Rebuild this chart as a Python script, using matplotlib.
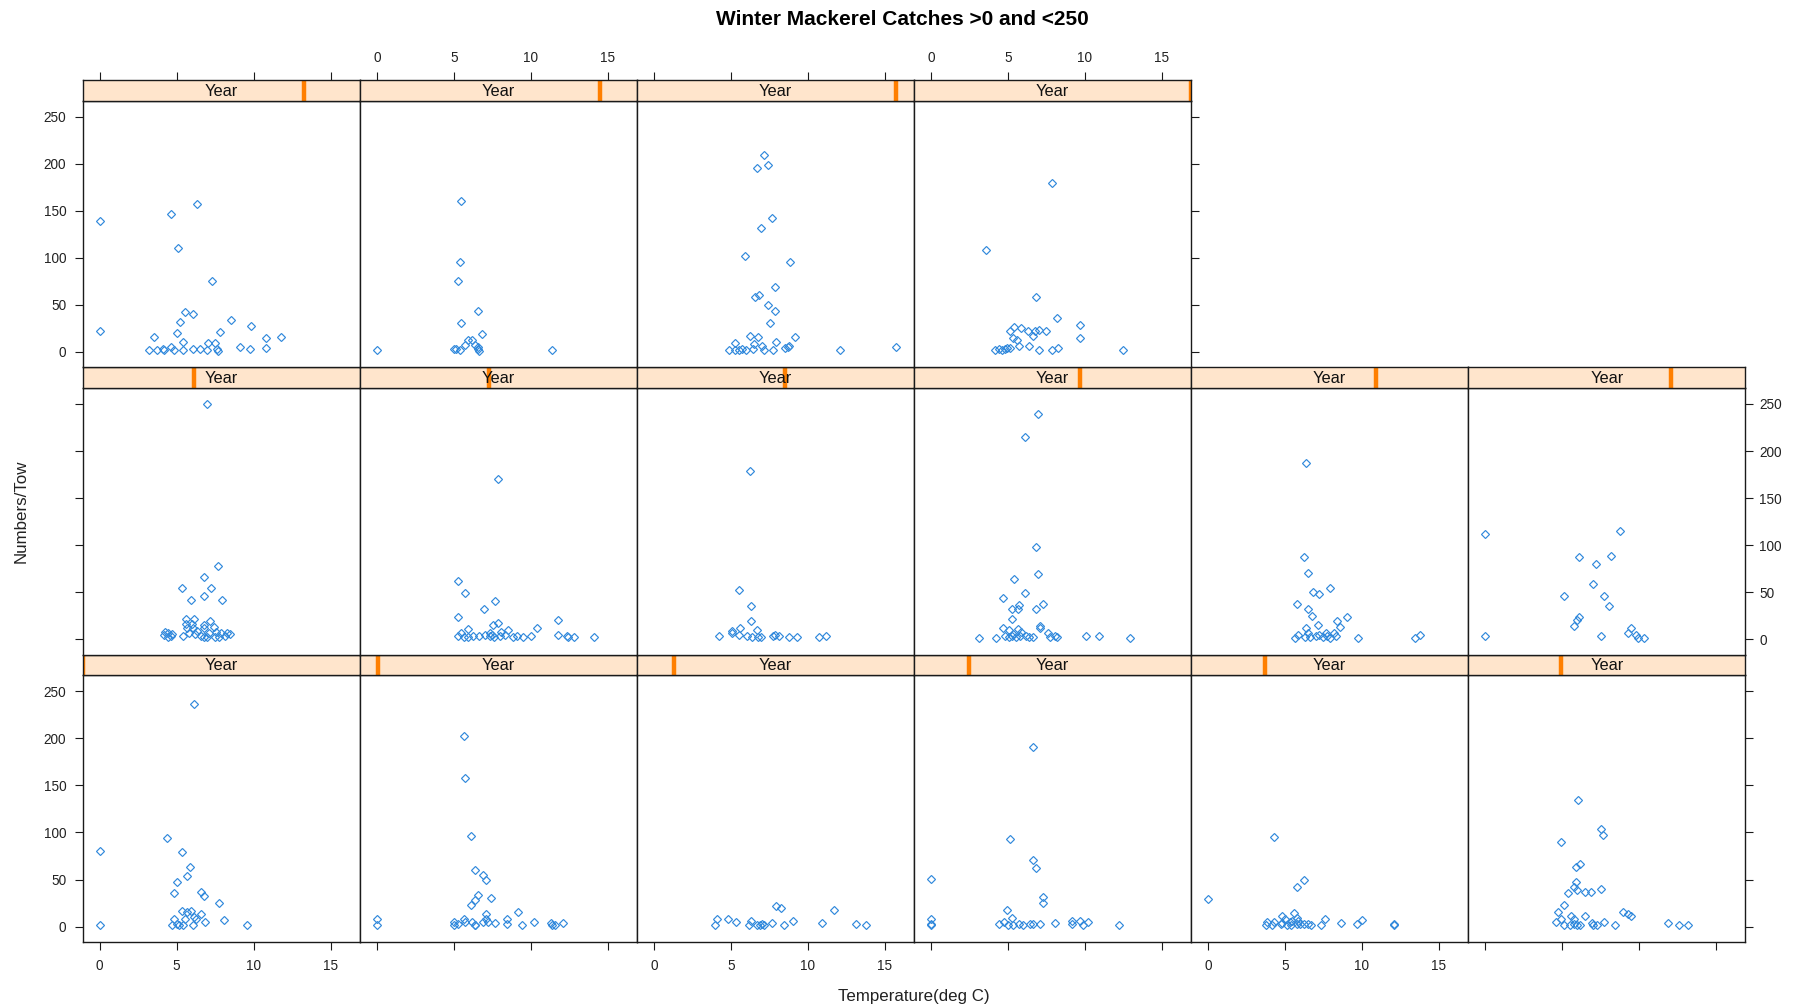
import matplotlib
matplotlib.use("Agg")
import matplotlib.pyplot as plt

plt.rcParams['font.family'] = ['Liberation Sans', 'DejaVu Sans']

# lattice panel order: bottom row left->right (1-6), middle row (7-12), top row (13-16)
temp_01 = [6.1, 0.0, 0.0, 4.4, 5.35, 5.85, 5.65, 5.05, 4.85, 6.6, 6.75, 7.75, 5.35, 5.65,
           5.95, 6.6, 4.85, 5.55, 6.1, 6.25, 8.05, 6.85, 4.7, 5.05, 5.15, 5.4, 6.05, 9.55]
num_01 = [237, 80, 1.5, 94, 79, 63, 54, 47, 36, 37, 32, 25, 17, 15.5,
          16.5, 13, 8.5, 8.5, 10.5, 8, 7, 5, 1.5, 2.5, 1.5, 1.5, 1.5, 1.5]

temp_02 = [5.65, 5.7, 6.15, 6.35, 6.9, 7.1, 6.55, 7.4, 6.35, 6.15, 9.15, 0.0, 0.0, 5.65, 7.1,
           8.45, 5.0, 5.7, 6.2, 6.9, 7.1, 7.25, 7.65, 10.2, 11.3, 12.1, 5.0, 5.3, 6.35, 6.4,
           8.45, 9.45, 11.4, 11.6]
num_02 = [203, 158, 96, 60, 55, 49, 33.5, 30, 28, 23, 16, 8.5, 1.5, 8.5, 13,
          8.5, 5, 5, 5, 5, 8, 5, 3.5, 5, 4, 3.5, 1.5, 2.5, 1.5, 1.5,
          2.5, 1.5, 1.5, 1.5]

temp_03 = [7.95, 8.25, 11.7, 4.1, 4.8, 5.35, 6.3, 9.05, 3.95, 6.2, 6.7, 6.9, 7.05, 7.15,
           7.7, 8.45, 10.95, 13.1, 13.75]
num_03 = [22, 20, 17.5, 8.5, 8.5, 5, 6, 6, 1.5, 1.5, 1.5, 1.5, 2.5, 1.5,
          3.5, 1.5, 3.5, 2.5, 1.5]

temp_04 = [6.65, 5.15, 6.65, 6.8, 0.0, 7.3, 7.3, 4.95, 5.25, 0.0, 0.0, 0.0, 4.75, 4.45,
           5.0, 5.3, 5.75, 5.95, 6.45, 6.65, 7.1, 8.05, 9.15, 9.15, 9.7, 9.9, 10.2, 12.2]
num_04 = [191, 93, 71, 62, 51, 31, 25.5, 17.5, 9.5, 8.5, 2.5, 1.5, 5, 2.5,
          1.5, 1.5, 2.5, 1.5, 2.5, 2.5, 2.5, 3.5, 6, 2.5, 6, 1.5, 5, 1.5]

temp_05 = [0.0, 4.3, 6.25, 5.8, 4.8, 5.6, 5.8, 5.0, 7.6, 10.0, 3.85, 4.3, 4.8, 5.3, 5.45,
           5.85, 3.75, 4.15, 4.75, 5.1, 5.4, 5.75, 6.0, 6.25, 6.5, 6.7, 7.35, 8.65, 9.65,
           12.05, 12.1]
num_05 = [29, 95, 49, 42, 11.5, 14.5, 9.5, 8.5, 8.5, 7.5, 5, 5, 4, 5, 6,
          6, 1.5, 1.5, 2.5, 1.5, 1.5, 2.5, 2.5, 2.5, 2.5, 1.5, 1.5, 3.5, 2.5,
          2.5, 1.5]

temp_06 = [6.05, 7.5, 7.65, 4.95, 6.15, 5.9, 5.9, 5.75, 6.0, 6.5, 6.85, 7.5, 5.4, 5.15,
           4.75, 8.95, 9.25, 9.45, 5.55, 6.5, 4.9, 5.75, 4.6, 6.95, 7.75, 5.1, 5.5, 5.75,
           5.95, 6.15, 7.0, 7.25, 8.45, 11.9, 12.6, 13.15]
num_06 = [134, 104, 97, 90, 67, 63, 47, 42, 39, 37, 37, 39.5, 36, 23,
          16, 15, 13, 11.5, 11, 11, 8, 8, 5, 3.5, 5, 1.5, 1.5, 2.5,
          1.5, 1.5, 1.5, 1.5, 1.5, 3.5, 1.5, 1.5]

temp_07 = [6.95, 7.7, 6.75, 5.35, 7.2, 6.75, 5.9, 7.95, 5.6, 6.15, 7.15, 5.6, 6.0, 6.75,
           7.4, 5.7, 6.05, 6.75, 6.35, 7.55, 5.8, 7.1, 7.85, 8.25, 4.25, 4.45, 4.7, 4.2,
           4.45, 4.6, 5.4, 6.6, 6.75, 6.95, 7.5, 7.75, 8.15, 8.45, 6.2]
num_07 = [250, 78, 66.5, 55, 55, 46, 42, 42, 21, 21, 19, 16, 16, 15,
          13.5, 11.5, 11.5, 11.5, 9, 8, 7, 7, 6.5, 6.5, 8, 6.5, 5.5, 4.5,
          2, 3.5, 3.5, 3, 2, 2, 2, 2, 3, 5.5, 5.5]

temp_08 = [7.85, 5.25, 5.75, 7.65, 6.95, 5.25, 11.75, 7.85, 7.55, 10.4, 5.9, 8.55, 5.45,
           7.35, 8.1, 11.75, 5.25, 5.65, 5.9, 6.25, 6.65, 7.05, 7.35, 7.5, 7.6, 8.0, 8.35,
           8.85, 9.1, 9.5, 10.0, 12.35, 12.4, 12.8, 14.1]
num_08 = [170, 62, 49.5, 40.5, 32, 23.5, 20, 17.5, 15, 11.5, 10.5, 10, 7,
          7, 8, 4.5, 3.5, 2, 2, 3, 3, 4.5, 3.5, 4.5, 2, 3, 4.5,
          2, 3, 2, 3, 3.5, 2, 2, 2]

temp_09 = [6.25, 5.55, 6.3, 6.3, 5.6, 6.7, 5.1, 5.05, 4.2, 5.55, 6.05, 6.35, 6.75, 6.95,
           7.75, 7.9, 8.15, 8.8, 9.3, 10.75, 11.15]
num_09 = [179, 52, 35, 19, 11.5, 10, 9, 7, 3, 4.5, 3, 2, 2, 2,
          3, 4, 3, 2, 2, 2, 3.5]

temp_10 = [6.95, 6.1, 6.85, 6.95, 5.4, 6.1, 4.7, 7.3, 5.75, 5.25, 5.65, 6.85, 5.25, 7.1,
           7.1, 4.7, 5.05, 5.65, 5.85, 7.6, 5.35, 4.8, 5.05, 5.25, 5.55, 5.8, 6.15, 6.4,
           6.65, 7.75, 8.05, 8.2, 3.15, 4.25, 10.1, 10.9, 12.9]
num_10 = [239, 215, 98, 69, 64, 49, 44, 38, 36, 32.5, 32.5, 32.5, 22, 14.5,
          11.5, 11.5, 10, 10.5, 8, 7, 5.5, 3.5, 2, 3.5, 2, 3, 3.5, 2,
          2, 2, 3.5, 2, 1.8, 1.8, 3.5, 3.5, 1.8]

temp_11 = [6.35, 6.25, 6.5, 6.85, 7.2, 7.95, 5.75, 6.5, 6.75, 9.05, 8.4, 7.15, 8.6, 6.35,
           6.5, 8.15, 8.3, 7.65, 7.2, 5.85, 5.65, 6.3, 6.6, 7.0, 7.45, 7.75, 7.9, 9.75,
           13.45, 13.8]
num_11 = [187, 87, 70, 50.5, 48.5, 55, 37, 32.5, 24.5, 23.5, 19, 15, 13, 11.5,
          7, 7, 3.5, 6.5, 4.5, 4, 1.8, 2, 2, 3, 2, 3.5, 1.8, 1.8,
          1.8, 4.5]

temp_12 = [0.0, 0.0, 8.75, 6.1, 8.2, 7.2, 7.0, 5.15, 7.75, 8.05, 6.1, 5.95, 5.8, 9.45,
           9.25, 7.5, 9.8, 9.9, 10.35]
num_12 = [111.5, 3.5, 115, 87.5, 88.5, 80.5, 59, 46, 46, 35, 23.5, 20.5, 14, 11.5,
          7, 3.5, 4.5, 1.8, 1.8]

temp_13 = [0.0, 0.0, 4.65, 6.35, 5.1, 7.3, 5.55, 6.05, 5.2, 8.5, 9.8, 7.8, 5.05, 3.55,
           11.8, 10.8, 5.4, 7.05, 7.5, 4.65, 9.1, 10.8, 3.2, 3.7, 4.1, 4.2, 4.85, 5.4,
           6.05, 6.5, 6.95, 7.65, 7.7, 9.75]
num_13 = [139, 22.5, 147, 157, 110, 75, 42, 40, 32, 34, 28, 21.5, 20.5, 15.5,
          15.5, 14.5, 10.5, 9.5, 9.5, 5.5, 5.5, 4, 1.8, 1.8, 2.8, 1.8, 1.8, 1.8,
          2.8, 2.8, 1.8, 2.8, 1.4, 2.8]

temp_14 = [5.5, 5.4, 5.3, 6.55, 5.5, 6.85, 6.2, 5.9, 5.7, 6.4, 6.6, 5.0, 5.15, 5.4,
           6.6, 6.65, 0.0, 11.4]
num_14 = [160, 95.5, 75, 44, 31, 19, 13, 12.5, 7, 7, 5, 2.8, 2.8, 1.8,
          2.8, 1.4, 1.8, 1.8]

temp_15 = [7.15, 6.7, 7.4, 7.65, 6.95, 5.95, 8.85, 7.9, 6.55, 6.85, 7.4, 7.9, 7.55, 6.25,
           6.75, 9.15, 5.3, 7.95, 6.5, 7.0, 8.8, 8.5, 4.9, 5.3, 5.5, 5.75, 6.0, 6.45,
           7.15, 7.75, 8.7, 12.1, 15.75]
num_15 = [209, 195, 199, 142.5, 132, 101.5, 96, 69, 58, 60.5, 50, 43, 31, 16.5,
          15.5, 15.5, 10, 11, 8, 6, 6.5, 4, 1.8, 1.8, 2.5, 3.5, 1.8, 2.8,
          1.8, 1.8, 5, 1.8, 5]

temp_16 = [7.85, 3.6, 6.8, 8.2, 9.7, 5.4, 5.85, 5.15, 6.3, 6.75, 7.05, 7.5, 6.6, 5.35,
           5.6, 9.7, 5.75, 6.4, 4.15, 4.4, 4.6, 4.8, 4.95, 5.15, 7.05, 7.85, 8.25, 12.5]
num_16 = [180, 108, 58, 36, 29, 27, 25.5, 22.5, 22.5, 22.5, 23.5, 22.5, 16.5, 14.5,
          13, 14.5, 6.5, 6.5, 1.8, 2.8, 1.8, 3.2, 4, 4.2, 1.8, 1.8, 4, 1.8]

temps = [temp_01, temp_02, temp_03, temp_04, temp_05, temp_06, temp_07, temp_08,
         temp_09, temp_10, temp_11, temp_12, temp_13, temp_14, temp_15, temp_16]
nums = [num_01, num_02, num_03, num_04, num_05, num_06, num_07, num_08,
        num_09, num_10, num_11, num_12, num_13, num_14, num_15, num_16]

x_ticks = [0, 5, 10, 15]
y_ticks = [0, 50, 100, 150, 200, 250]
n_levels = 16

W, H = 1804, 1008
fig = plt.figure(figsize=(W / 100, H / 100), dpi=100)

xlim = (-1.1, 16.9)
ylim = (-16.3, 267)
left_px, col_w = 82.8, 277.08
top_px, row_h, strip_h = 80.0, 287.3, 20.7
edge = '#1a1a1a'
tick_fs = 9.8

for i in range(n_levels):
    if i < 6:
        row, col = 2, i
    elif i < 12:
        row, col = 1, i - 6
    else:
        row, col = 0, i - 12
    last_col = 3 if row == 0 else 5

    x0 = (left_px + col * col_w) / W
    w = col_w / W
    ytop = top_px + row * row_h
    ax = fig.add_axes([x0, 1 - (ytop + row_h) / H, w, (row_h - strip_h) / H])
    sax = fig.add_axes([x0, 1 - (ytop + strip_h) / H, w, strip_h / H])

    ax.plot(temps[i], nums[i], linestyle='none', marker='D', markersize=3.7,
            markerfacecolor='none', markeredgecolor='#3189dc', markeredgewidth=0.85)
    ax.set_xlim(xlim)
    ax.set_ylim(ylim)
    ax.set_xticks(x_ticks)
    ax.set_yticks(y_ticks)
    for sp in ax.spines.values():
        sp.set_color(edge)
        sp.set_linewidth(1.0)

    # y axis: left on first column, right on last column; labels alternate
    left_ticks = col == 0
    right_ticks = col == last_col
    ax.tick_params(axis='y', direction='out', length=5.5, width=0.8, color=edge,
                   labelsize=tick_fs, labelcolor='#222222',
                   pad=4.5 if row == 1 else 6.5,
                   left=left_ticks, labelleft=left_ticks and row != 1,
                   right=right_ticks, labelright=right_ticks and row == 1)
    # x axis: bottom row only, labels alternate
    ax.tick_params(axis='x', direction='out', length=5.5, width=0.8, color=edge,
                   labelsize=tick_fs, labelcolor='#222222', pad=7,
                   bottom=row == 2, labelbottom=(row == 2 and col % 2 == 0),
                   top=False, labeltop=False)

    # strip
    sax.set_facecolor('#ffe5cc')
    sax.set_xlim(xlim)
    sax.set_ylim(0, 1)
    pos = xlim[0] + (xlim[1] - xlim[0]) * i / (n_levels - 1)
    sax.axvline(pos, color='#ff7f00', linewidth=3.2)
    sax.text(0.5, 0.45, 'Year', transform=sax.transAxes, ha='center', va='center',
             fontsize=11.8, color='#111111')
    for sp in sax.spines.values():
        sp.set_color(edge)
        sp.set_linewidth(1.0)
    sax.set_yticks([])
    sax.set_xticks(x_ticks if row == 0 else [])
    sax.tick_params(axis='x', direction='out', length=5.5, width=0.8, color=edge,
                    labelsize=tick_fs, labelcolor='#222222', pad=5,
                    bottom=False, labelbottom=False,
                    top=row == 0, labeltop=(row == 0 and col % 2 == 1))

fig.text(0.5, 1 - 19.6 / H, 'Winter Mackerel Catches >0 and <250', ha='center',
         va='center', fontsize=15, fontweight='bold')
fig.text((left_px + 3 * col_w) / W, 1 - 996 / H, 'Temperature(deg C)', ha='center',
         va='center', fontsize=12.2, color='#222222')
fig.text(21 / W, 1 - 511 / H, 'Numbers/Tow', rotation=90, ha='center', va='center',
         fontsize=12.2, color='#222222')

fig.savefig('out.png', dpi=100)
